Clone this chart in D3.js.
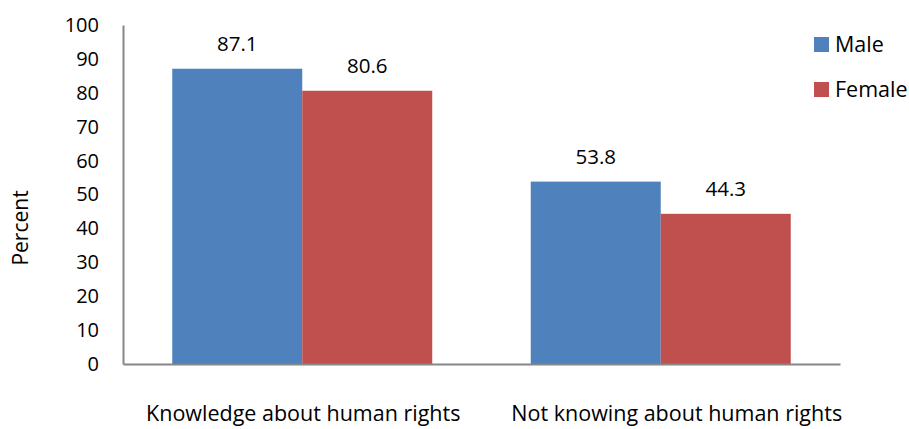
<!DOCTYPE html>
<html><head><meta charset="utf-8">
<script src="https://cdn.jsdelivr.net/npm/d3@7"></script>
<style>body{margin:0;background:#fff}svg{display:block;font-family:"Open Sans",sans-serif}</style>
</head><body><svg id="c" width="909" height="429"></svg>
<script>
const categories = ["Knowledge about human rights", "Not knowing about human rights"];
const seriesNames = ["Male", "Female"];
const male = [87.1, 53.8];
const female = [80.6, 44.3];
const yTicks = [0,10,20,30,40,50,60,70,80,90,100];
const colors = ["#4F81BD", "#C0504D"];

const svg = d3.select("#c");
const x0 = d3.scaleBand().domain(categories).range([123, 840]).paddingInner(0).paddingOuter(0);
const x1 = d3.scaleBand().domain(seriesNames).range([0, 260]);
const y = d3.scaleLinear().domain([0, 100]).range([364, 25]);

const data = categories.map((c, i) => ({cat: c, vals: [male[i], female[i]]}));

const g = svg.append("g");
data.forEach(d => {
  const off = x0(d.cat) + (x0.bandwidth() - 260) / 2;
  d.vals.forEach((v, j) => {
    g.append("rect").attr("x", off + x1(seriesNames[j])).attr("y", y(v))
      .attr("width", x1.bandwidth()).attr("height", y(0) - y(v)).attr("fill", colors[j]);
    g.append("text").attr("x", off + x1(seriesNames[j]) + x1.bandwidth() / 2).attr("y", y(v) - 18)
      .attr("text-anchor", "middle").attr("font-size", 20.5).attr("fill", "#000").text(v.toFixed(1));
  });
});

// y axis
const ya = d3.axisLeft(y).tickValues(yTicks).tickSize(0).tickPadding(24);
const yg = svg.append("g").attr("transform", "translate(123,0)").call(ya);
yg.select(".domain").attr("stroke", "#868686").attr("stroke-width", 2);
yg.selectAll("text").attr("font-size", 20).attr("font-family", '"Open Sans",sans-serif').attr("fill", "#000");

// x axis line
const xa = d3.axisBottom(x0).tickSize(0).tickFormat("");
const xg = svg.append("g").attr("transform", "translate(0,364)").call(xa);
xg.select(".domain").attr("stroke", "#868686").attr("stroke-width", 2);

// category labels
const labelDx = [1, 16];
categories.forEach((c, i) => {
  svg.append("text").attr("x", x0(c) + x0.bandwidth() / 2 + labelDx[i]).attr("y", 421)
    .attr("text-anchor", "middle").attr("font-size", 21.5).attr("fill", "#000").text(c);
});

// y title
svg.append("text").attr("transform", "translate(28,228) rotate(-90)").attr("text-anchor", "middle")
  .attr("font-size", 21).attr("fill", "#000").text("Percent");

// legend
seriesNames.forEach((s, i) => {
  const ly = 37 + i * 45;
  svg.append("rect").attr("x", 814).attr("y", ly).attr("width", 15).attr("height", 15).attr("fill", colors[i]);
  svg.append("text").attr("x", 835).attr("y", ly + 15).attr("font-size", 21.5).attr("fill", "#000").text(s);
});
</script></body></html>
